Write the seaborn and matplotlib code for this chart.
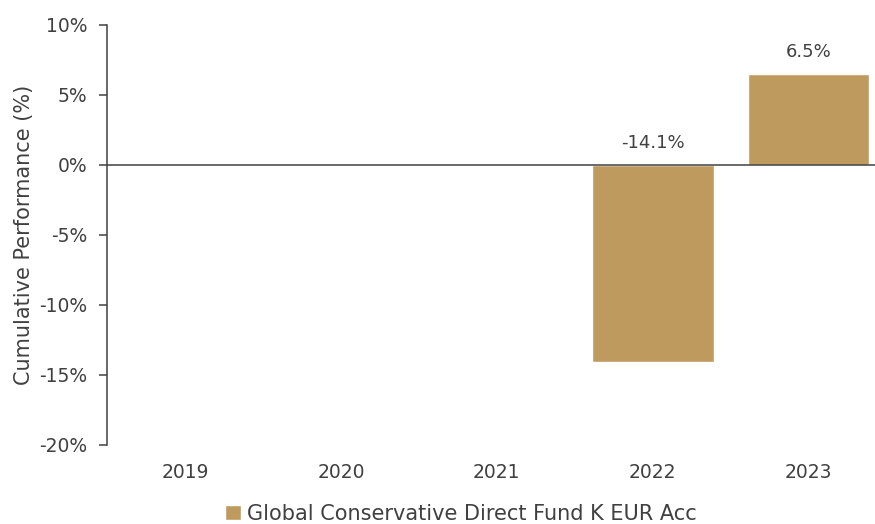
import pandas as pd
import numpy as np
import matplotlib.pyplot as plt
import seaborn as sns

years = ["2019", "2020", "2021", "2022", "2023"]
perf = [np.nan, np.nan, np.nan, -14.1, 6.5]
fund = "Global Conservative Direct Fund K EUR Acc"

df = pd.DataFrame({"Year": years, "Performance": perf, "Fund": fund})

sns.set_style("white")
plt.rcParams["font.family"] = ["DejaVu Sans"]
txt = "#404040"

fig = plt.figure(figsize=(8.75, 5.24), dpi=100)
ax = fig.add_axes([0.1223, 0.1508, 0.891, 0.8015])

sns.barplot(data=df, x="Year", y="Performance", hue="Fund",
            palette=["#BF9A5F"], saturation=1, width=0.78, ax=ax, legend=True)

ax.axhline(0, color="#404040", lw=1.1, zorder=3)
ax.set_ylim(-20, 10)
ax.set_xlim(-0.5, 4.5)
ax.set_yticks(range(-20, 11, 5))
ax.set_yticklabels([f"{t}%" for t in range(-20, 11, 5)])

for i, v in enumerate(perf):
    if np.isnan(v):
        continue
    ax.text(i, max(v, 0) + 0.9, f"{v:.1f}%", ha="center", va="bottom",
            fontsize=13, color=txt)

for s in ["top", "right", "bottom"]:
    ax.spines[s].set_visible(False)
ax.spines["left"].set_color("#404040")
ax.spines["left"].set_linewidth(1.1)
ax.tick_params(axis="y", direction="out", length=6, width=1.1, color="#404040",
               labelsize=13.5, labelcolor=txt, left=True, pad=8)
ax.tick_params(axis="x", length=0, labelsize=13.5, labelcolor=txt, pad=13)
ax.set_xlabel("")
ax.set_ylabel("Cumulative Performance (%)", fontsize=15, color=txt, labelpad=4)

ax.legend(loc="lower center", bbox_to_anchor=(0.527, -0.02), bbox_transform=fig.transFigure,
          frameon=False, fontsize=15, handlelength=0.75, handleheight=0.75,
          handletextpad=0.3, labelcolor=txt, borderaxespad=0.1)

plt.savefig("out.png", dpi=100)
